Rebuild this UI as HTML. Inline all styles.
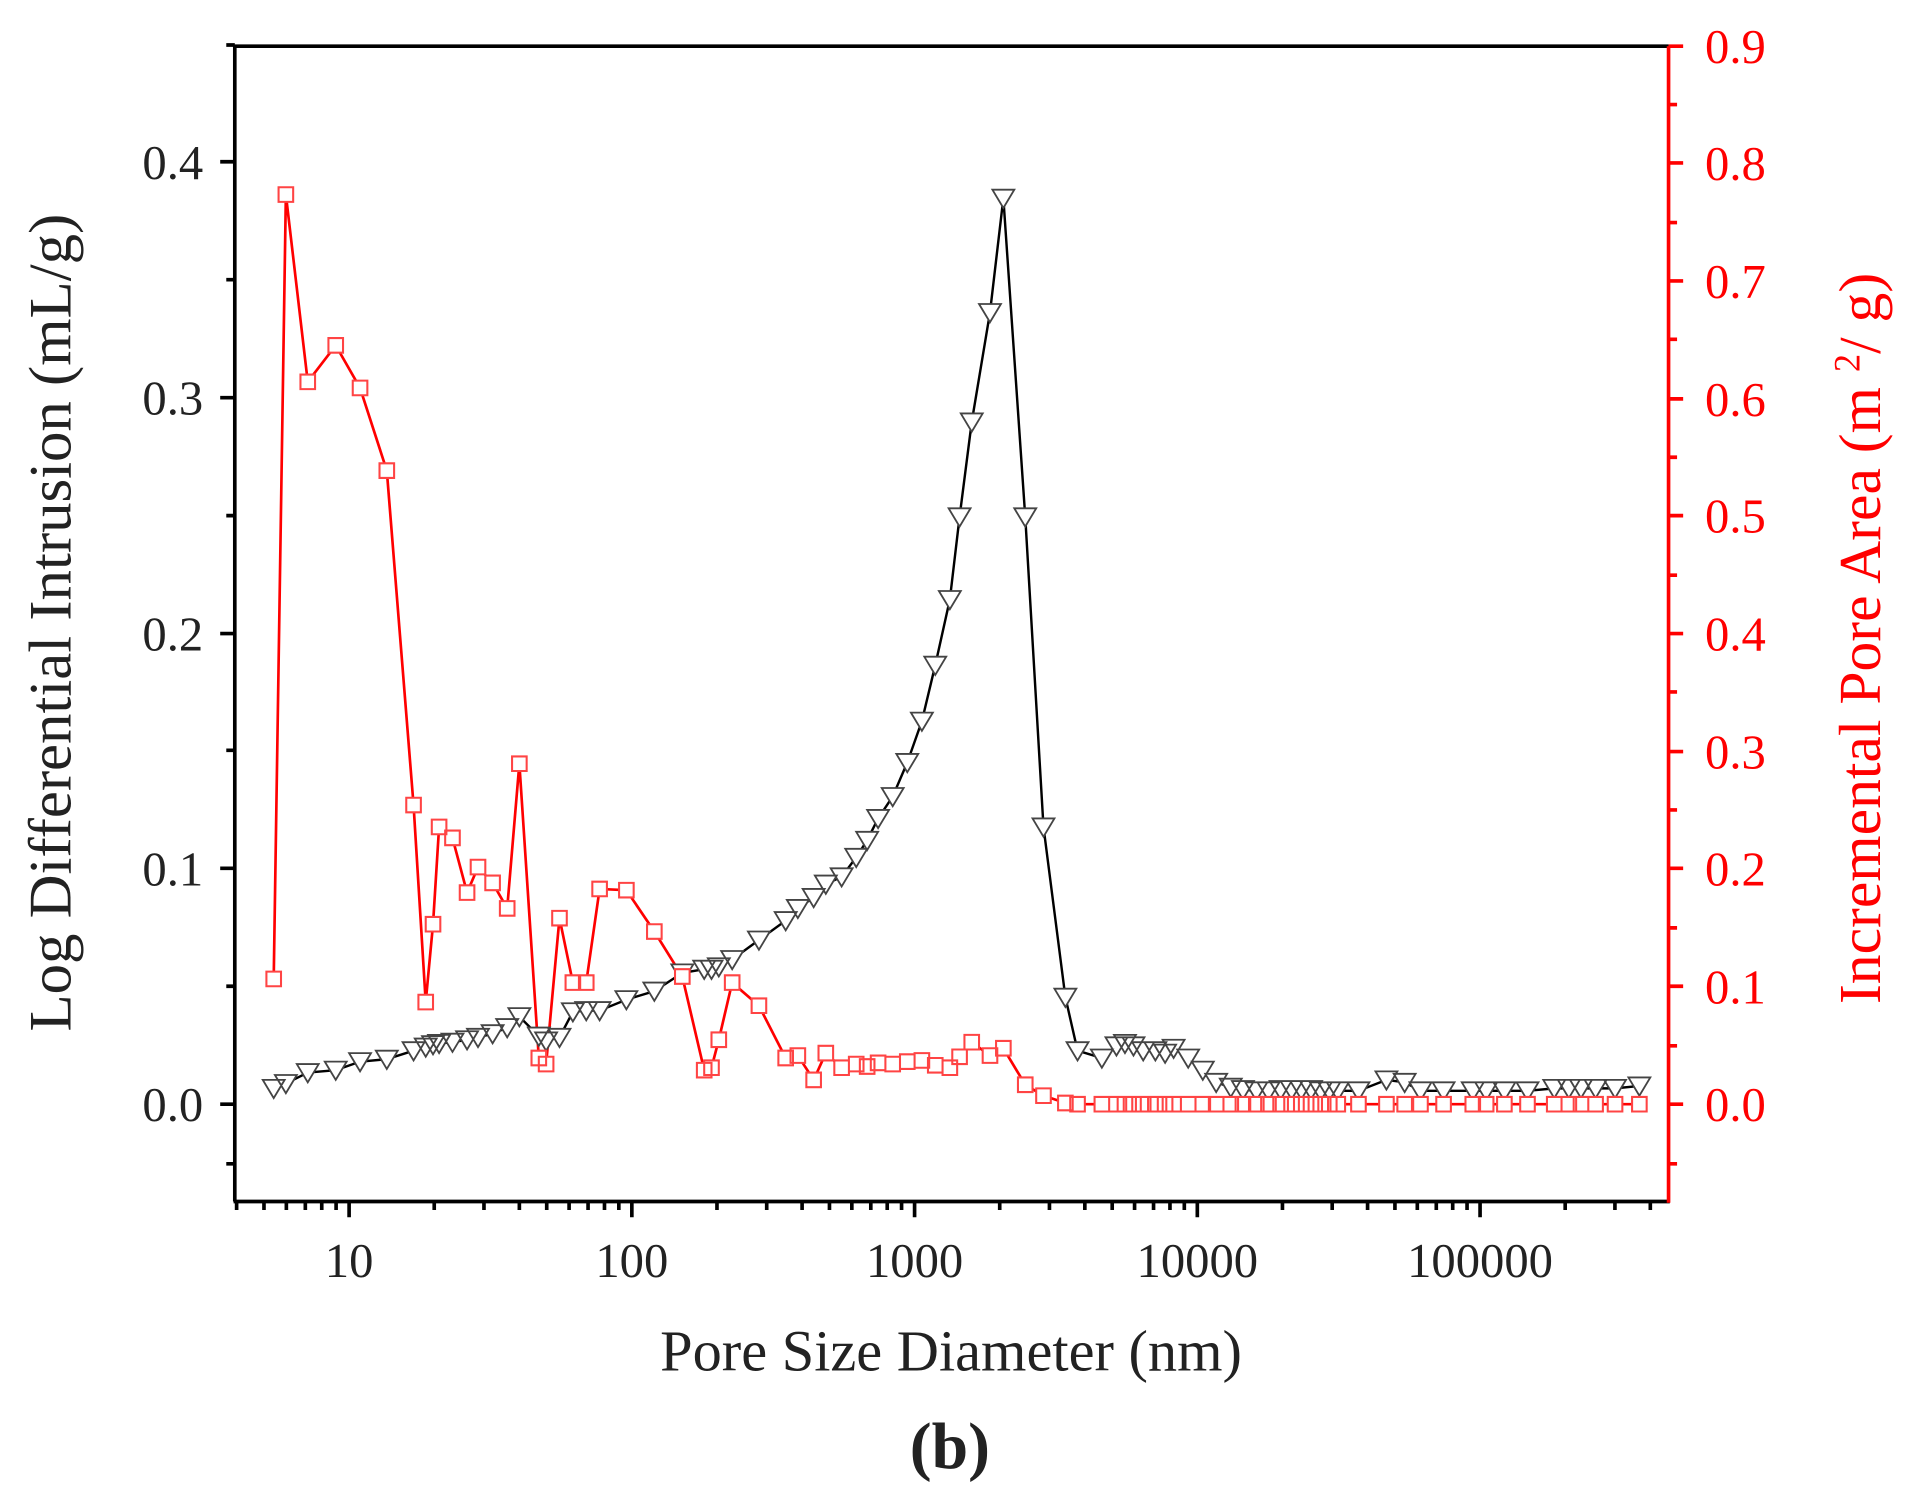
<!DOCTYPE html>
<html><head><meta charset="utf-8"><style>
html,body{margin:0;padding:0;background:#fff;}
svg{display:block;}
text{font-family:"Liberation Serif",serif;}
</style></head><body>
<svg width="1907" height="1497" viewBox="0 0 1568 1231" xmlns="http://www.w3.org/2000/svg">
<rect width="1568" height="1231" fill="#fff"/>
<polyline fill="none" stroke="#000" stroke-width="2" points="225,895 235,891 253,882 276,880 296,873 318,871 340,864 350,861 356,859 361,858 372,857 384,855 393,853 405,850 417,845 427,836 443,852 449,856 460,853 471,832 482,831 493,831 515,822 538,815 561,800 579,797 585,797 591,795 602,789 624,773 646,757 656,747 669,738 679,727 692,721 704,705 713,691 722,673 734,655 746,627 758,593 769,547 781,493 789,425 799,347 814,257 825,163 843,425 858,680 876,820 886,864 906,870 918,860 925,858 932,860 940,864 950,864 958,866 965,862 977,870 989,880 1000,890 1012,894 1022,896 1033,897 1043,897 1053,896 1062,896 1070,896 1078,896 1086,897 1093,897 1100,897 1117,897 1140,888 1155,890 1168,897 1187,897 1211,897 1222,897 1237,897 1256,897 1278,895 1290,895 1300,895 1312,895 1328,895 1348,893"/>
<polyline fill="none" stroke="#f00" stroke-width="2.2" points="225,805 235,160 253,314 276,284 296,319 318,387 340,662 350,824 356,760 361,680 372,689 384,734 393,713 405,726 417,747 427,628 443,870 449,875 460,755 471,808 482,808 493,731 515,732 538,766 561,803 579,880 585,878 591,855 602,808 624,827 646,870 656,868 669,888 679,866 692,878 704,875 713,877 722,874 734,875 746,873 758,872 769,876 781,878 789,869 799,857 814,868 825,862 843,892 858,901 876,907 886,908 1348,908"/>
<path fill="#fff" stroke="#444" stroke-width="1.5" d="
M216,888 l18,0 l-9,15z M226,884 l18,0 l-9,15z M244,875 l18,0 l-9,15z M267,873 l18,0 l-9,15z M287,866 l18,0 l-9,15z M309,864 l18,0 l-9,15z
M331,857 l18,0 l-9,15z M341,854 l18,0 l-9,15z M347,852 l18,0 l-9,15z M352,851 l18,0 l-9,15z M363,850 l18,0 l-9,15z M375,848 l18,0 l-9,15z
M384,846 l18,0 l-9,15z M396,843 l18,0 l-9,15z M408,838 l18,0 l-9,15z M418,829 l18,0 l-9,15z M434,845 l18,0 l-9,15z M440,849 l18,0 l-9,15z
M451,846 l18,0 l-9,15z M462,825 l18,0 l-9,15z M473,824 l18,0 l-9,15z M484,824 l18,0 l-9,15z M506,815 l18,0 l-9,15z M529,808 l18,0 l-9,15z
M552,793 l18,0 l-9,15z M570,790 l18,0 l-9,15z M576,790 l18,0 l-9,15z M582,788 l18,0 l-9,15z M593,782 l18,0 l-9,15z M615,766 l18,0 l-9,15z
M637,750 l18,0 l-9,15z M647,740 l18,0 l-9,15z M660,731 l18,0 l-9,15z M670,720 l18,0 l-9,15z M683,714 l18,0 l-9,15z M695,698 l18,0 l-9,15z
M704,684 l18,0 l-9,15z M713,666 l18,0 l-9,15z M725,648 l18,0 l-9,15z M737,620 l18,0 l-9,15z M749,586 l18,0 l-9,15z M760,540 l18,0 l-9,15z
M772,486 l18,0 l-9,15z M780,418 l18,0 l-9,15z M790,340 l18,0 l-9,15z M805,250 l18,0 l-9,15z M816,156 l18,0 l-9,15z M834,418 l18,0 l-9,15z
M849,673 l18,0 l-9,15z M867,813 l18,0 l-9,15z M877,857 l18,0 l-9,15z M897,863 l18,0 l-9,15z M909,853 l18,0 l-9,15z M916,851 l18,0 l-9,15z
M923,853 l18,0 l-9,15z M931,857 l18,0 l-9,15z M941,857 l18,0 l-9,15z M949,859 l18,0 l-9,15z M956,855 l18,0 l-9,15z M968,863 l18,0 l-9,15z
M980,873 l18,0 l-9,15z M991,883 l18,0 l-9,15z M1003,887 l18,0 l-9,15z M1013,889 l18,0 l-9,15z M1024,890 l18,0 l-9,15z M1034,890 l18,0 l-9,15z
M1044,889 l18,0 l-9,15z M1053,889 l18,0 l-9,15z M1061,889 l18,0 l-9,15z M1069,889 l18,0 l-9,15z M1077,890 l18,0 l-9,15z M1084,890 l18,0 l-9,15z
M1091,890 l18,0 l-9,15z M1108,890 l18,0 l-9,15z M1131,881 l18,0 l-9,15z M1146,883 l18,0 l-9,15z M1159,890 l18,0 l-9,15z M1178,890 l18,0 l-9,15z
M1202,890 l18,0 l-9,15z M1213,890 l18,0 l-9,15z M1228,890 l18,0 l-9,15z M1247,890 l18,0 l-9,15z M1269,888 l18,0 l-9,15z M1281,888 l18,0 l-9,15z
M1291,888 l18,0 l-9,15z M1303,888 l18,0 l-9,15z M1319,888 l18,0 l-9,15z M1339,886 l18,0 l-9,15z"/>
<path fill="#fff" stroke="#f44" stroke-width="1.7" d="
M219,799h12v12h-12z M229,154h12v12h-12z M247,308h12v12h-12z M270,278h12v12h-12z M290,313h12v12h-12z M312,381h12v12h-12z
M334,656h12v12h-12z M344,818h12v12h-12z M350,754h12v12h-12z M355,674h12v12h-12z M366,683h12v12h-12z M378,728h12v12h-12z
M387,707h12v12h-12z M399,720h12v12h-12z M411,741h12v12h-12z M421,622h12v12h-12z M437,864h12v12h-12z M443,869h12v12h-12z
M454,749h12v12h-12z M465,802h12v12h-12z M476,802h12v12h-12z M487,725h12v12h-12z M509,726h12v12h-12z M532,760h12v12h-12z
M555,797h12v12h-12z M573,874h12v12h-12z M579,872h12v12h-12z M585,849h12v12h-12z M596,802h12v12h-12z M618,821h12v12h-12z
M640,864h12v12h-12z M650,862h12v12h-12z M663,882h12v12h-12z M673,860h12v12h-12z M686,872h12v12h-12z M698,869h12v12h-12z
M707,871h12v12h-12z M716,868h12v12h-12z M728,869h12v12h-12z M740,867h12v12h-12z M752,866h12v12h-12z M763,870h12v12h-12z
M775,872h12v12h-12z M783,863h12v12h-12z M793,851h12v12h-12z M808,862h12v12h-12z M819,856h12v12h-12z M837,886h12v12h-12z
M852,895h12v12h-12z M870,901h12v12h-12z M880,902h12v12h-12z M900,902h12v12h-12z M912,902h12v12h-12z M919,902h12v12h-12z
M926,902h12v12h-12z M934,902h12v12h-12z M944,902h12v12h-12z M952,902h12v12h-12z M959,902h12v12h-12z M971,902h12v12h-12z
M983,902h12v12h-12z M994,902h12v12h-12z M1006,902h12v12h-12z M1016,902h12v12h-12z M1027,902h12v12h-12z M1037,902h12v12h-12z
M1047,902h12v12h-12z M1056,902h12v12h-12z M1064,902h12v12h-12z M1072,902h12v12h-12z M1080,902h12v12h-12z M1087,902h12v12h-12z
M1094,902h12v12h-12z M1111,902h12v12h-12z M1134,902h12v12h-12z M1149,902h12v12h-12z M1162,902h12v12h-12z M1181,902h12v12h-12z
M1205,902h12v12h-12z M1216,902h12v12h-12z M1231,902h12v12h-12z M1250,902h12v12h-12z M1272,902h12v12h-12z M1284,902h12v12h-12z
M1294,902h12v12h-12z M1306,902h12v12h-12z M1322,902h12v12h-12z M1342,902h12v12h-12z"/>
<path d="M193,988 L193,38 L1372,38" fill="none" stroke="#000" stroke-width="3"/>
<path d="M192,988 L1373,988" stroke="#000" stroke-width="3"/>
<path d="M1372,38 L1372,989" stroke="#f00" stroke-width="3"/>
<path stroke="#000" stroke-width="3" d="M181,908h12 M181,714h12 M181,521h12 M181,327h12 M181,133h12 M186,957h7 M186,811h7 M186,617h7 M186,424h7 M186,230h7 M186,37h7"/>
<path stroke="#f00" stroke-width="3" d="M1372,908h12 M1372,811h12 M1372,714h12 M1372,618h12 M1372,521h12 M1372,424h12 M1372,328h12 M1372,231h12 M1372,134h12 M1372,38h12
M1372,957h7 M1372,860h7 M1372,763h7 M1372,666h7 M1372,569h7 M1372,473h7 M1372,376h7 M1372,279h7 M1372,183h7 M1372,86h7"/>
<path stroke="#000" stroke-width="3" d="M287,988v13 M519.5,988v13 M752,988v13 M984.5,988v13 M1217,988v13
M194.5,988v7 M217,988v7 M235.4,988v7 M251,988v7 M264.5,988v7 M276.3,988v7
M357,988v7 M397.9,988v7 M427,988v7 M449.5,988v7 M467.9,988v7 M483.5,988v7 M497,988v7 M508.8,988v7
M589.5,988v7 M630.4,988v7 M659.5,988v7 M682,988v7 M700.4,988v7 M716,988v7 M729.5,988v7 M741.3,988v7
M822,988v7 M862.9,988v7 M892,988v7 M914.5,988v7 M932.9,988v7 M948.5,988v7 M962,988v7 M973.8,988v7
M1054.5,988v7 M1095.4,988v7 M1124.5,988v7 M1147,988v7 M1165.4,988v7 M1181,988v7 M1194.5,988v7 M1206.3,988v7
M1287,988v7 M1327.9,988v7 M1357,988v7"/>
<g font-size="40" fill="#222" text-anchor="end">
<text x="167" y="922">0.0</text><text x="167" y="728">0.1</text><text x="167" y="535">0.2</text><text x="167" y="341">0.3</text><text x="167" y="147">0.4</text>
</g>
<g font-size="40" fill="#f00">
<text x="1402" y="922">0.0</text><text x="1402" y="825">0.1</text><text x="1402" y="728">0.2</text><text x="1402" y="632">0.3</text><text x="1402" y="535">0.4</text><text x="1402" y="438">0.5</text><text x="1402" y="342">0.6</text><text x="1402" y="245">0.7</text><text x="1402" y="148">0.8</text><text x="1402" y="52">0.9</text>
</g>
<g font-size="40" fill="#222" text-anchor="middle">
<text x="287" y="1050">10</text><text x="519.5" y="1050">100</text><text x="752" y="1050">1000</text><text x="984.5" y="1050">10000</text><text x="1217" y="1050">100000</text>
</g>
<text x="782" y="1127" font-size="48" fill="#222" text-anchor="middle">Pore Size Diameter (nm)</text>
<text x="781" y="1207" font-size="54" font-weight="bold" fill="#222" text-anchor="middle">(b)</text>
<text transform="translate(58,512) rotate(-90)" font-size="50" fill="#222" text-anchor="middle">Log Differential Intrusion (mL/g)</text>
<text transform="translate(1546,525) rotate(-90)" font-size="49" fill="#f00" text-anchor="middle">Incremental Pore Area (m <tspan font-size="30" dy="-17">2</tspan><tspan dy="17">/ g)</tspan></text>
</svg>
</body></html>
